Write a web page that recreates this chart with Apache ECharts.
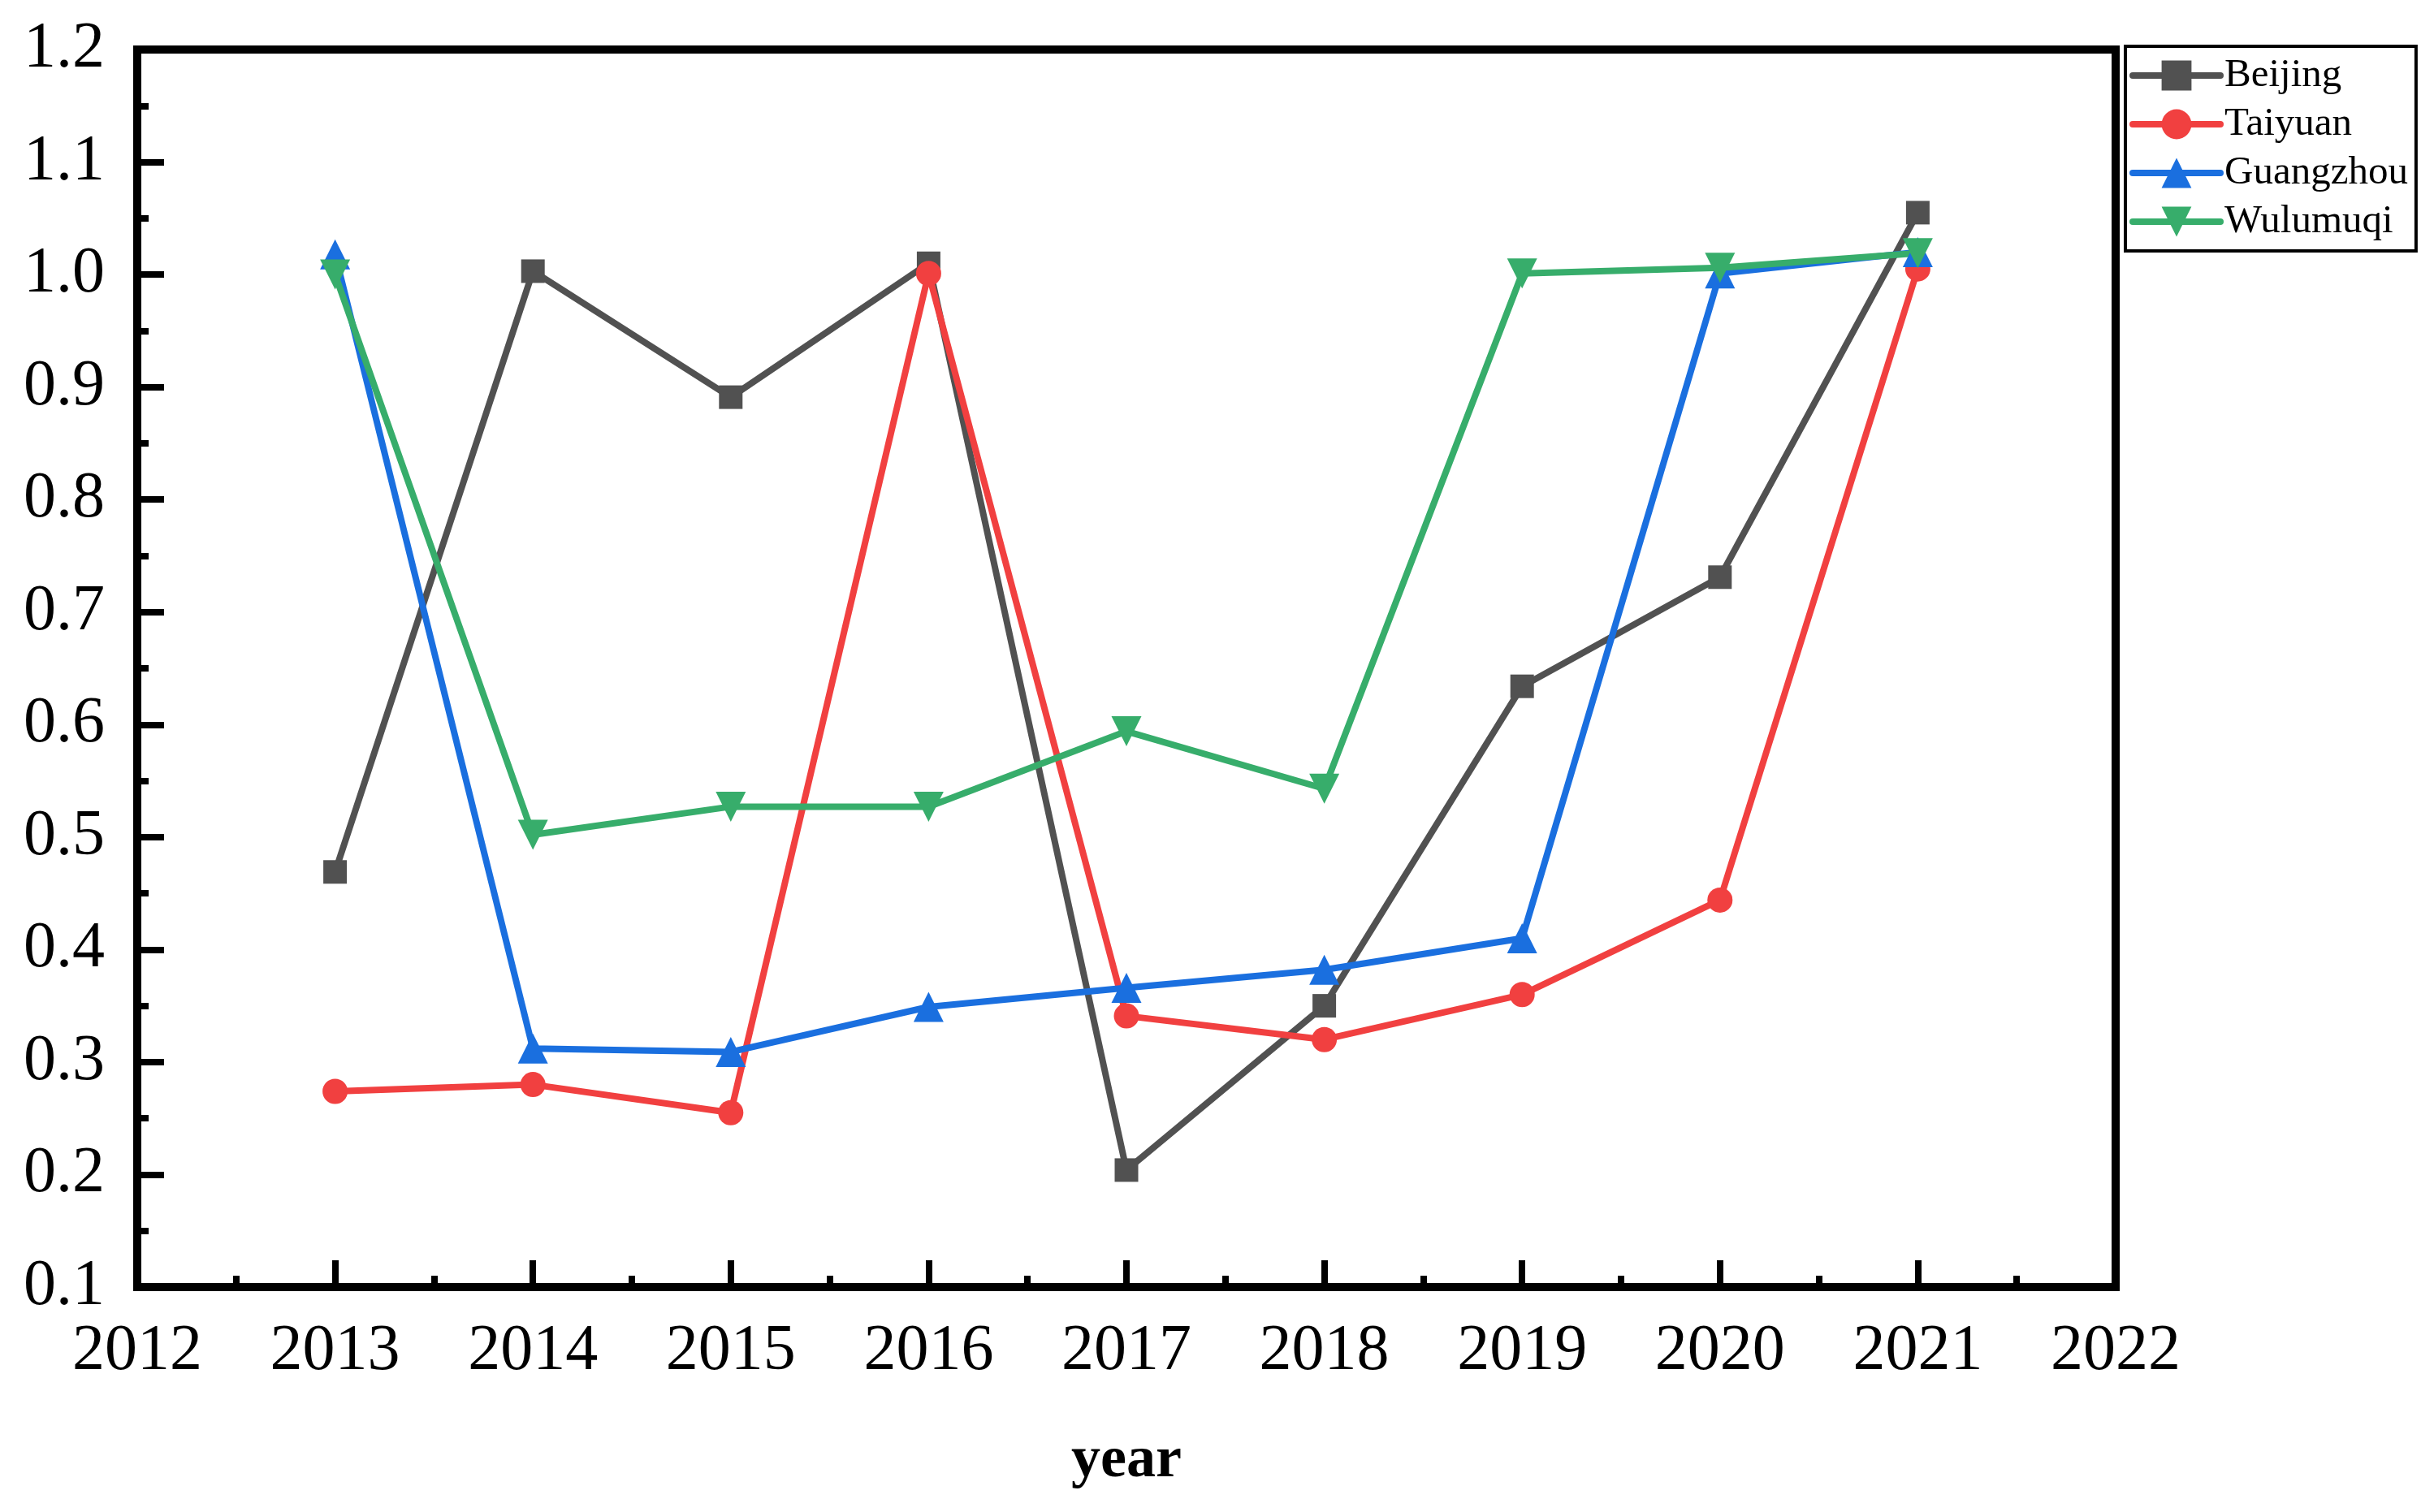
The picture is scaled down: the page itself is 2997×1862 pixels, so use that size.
<!DOCTYPE html>
<html>
<head>
<meta charset="utf-8">
<script src="https://cdn.jsdelivr.net/npm/echarts@6/dist/echarts.min.js"></script>
<style>
html,body{margin:0;padding:0;background:#fff;}
#chart{width:2997px;height:1862px;}
</style>
</head>
<body>
<div id="chart"></div>
<script>
var years = [2013, 2014, 2015, 2016, 2017, 2018, 2019, 2020, 2021];
var beijing   = [0.469, 1.003, 0.891, 1.010, 0.204, 0.350, 0.634, 0.731, 1.055];
var taiyuan   = [0.274, 0.280, 0.255, 1.001, 0.341, 0.320, 0.360, 0.444, 1.005];
var guangzhou = [1.018, 0.312, 0.309, 0.349, 0.366, 0.382, 0.410, 1.001, 1.020];
var wulumuqi  = [1.000, 0.502, 0.527, 0.527, 0.594, 0.543, 1.001, 1.006, 1.019];
var seriesNames = ['Beijing', 'Taiyuan', 'Guangzhou', 'Wulumuqi'];
var colors = ['#515151', '#F14040', '#1A6FDF', '#37AD6B'];
var xLabel = 'year';

var FONT = '"Liberation Serif", "Times New Roman", serif';
function pairs(vals){ return years.map(function(y,i){ return [y, vals[i]]; }); }
var allData = [beijing, taiyuan, guangzhou, wulumuqi];
var symbols = ['rect', 'circle', 'triangle', 'triangle'];
var rotates = [0, 0, 0, 180];
var sizes = [29, 31, 37, 37];

var chart = echarts.init(document.getElementById('chart'), null, {renderer:'canvas'});
chart.setOption({
  animation: false,
  backgroundColor: '#fff',
  grid: {left:169, right:392, top:61, bottom:277, show:true, borderColor:'#000', borderWidth:10,
         backgroundColor:'transparent', containLabel:false, outerBoundsMode:'none'},
  legend: {
    orient: 'vertical', left: 2617, top: 57,
    data: seriesNames,
    borderColor: '#000', borderWidth: 4, borderRadius: 0,
    padding: [11, 10, 11, 5],
    itemWidth: 108, itemHeight: 46, itemGap: 10,
    lineStyle: {width: 8, cap: 'round'},
    textStyle: {fontFamily: FONT, fontSize: 49, color: '#000', lineHeight: 50}
  },
  xAxis: {
    type: 'value', min: 2012, max: 2022, interval: 1,
    name: xLabel, nameLocation: 'middle', nameGap: 178,
    nameTextStyle: {fontFamily: FONT, fontSize: 72, fontWeight: 'bold', color: '#000'},
    axisLine: {show: true, onZero: false, lineStyle: {color: '#000', width: 10}},
    axisTick: {show: true, inside: true, length: 33, lineStyle: {color: '#000', width: 8}},
    minorTick: {show: true, splitNumber: 2, length: 14, lineStyle: {color: '#000', width: 8}},
    splitLine: {show: false},
    axisLabel: {fontFamily: FONT, fontSize: 80, color: '#000', margin: 40,
      formatter: function(v){ return String(Math.round(v)); }}
  },
  yAxis: {
    type: 'value', min: 0.1, max: 1.2, interval: 0.1,
    axisLine: {show: true, onZero: false, lineStyle: {color: '#000', width: 10}},
    axisTick: {show: true, inside: true, length: 33, lineStyle: {color: '#000', width: 8}},
    minorTick: {show: true, splitNumber: 2, length: 14, lineStyle: {color: '#000', width: 8}},
    splitLine: {show: false},
    axisLabel: {fontFamily: FONT, fontSize: 80, color: '#000', margin: 40,
      formatter: function(v){ return v.toFixed(1); }}
  },
  series: seriesNames.map(function(n, i){
    return {
      name: n, type: 'line', data: pairs(allData[i]),
      symbol: symbols[i], symbolSize: sizes[i], symbolRotate: rotates[i],
      showAllSymbol: true,
      lineStyle: {color: colors[i], width: 8},
      itemStyle: {color: colors[i], borderWidth: 0},
      emphasis: {disabled: true}
    };
  })
});
</script>
</body>
</html>
